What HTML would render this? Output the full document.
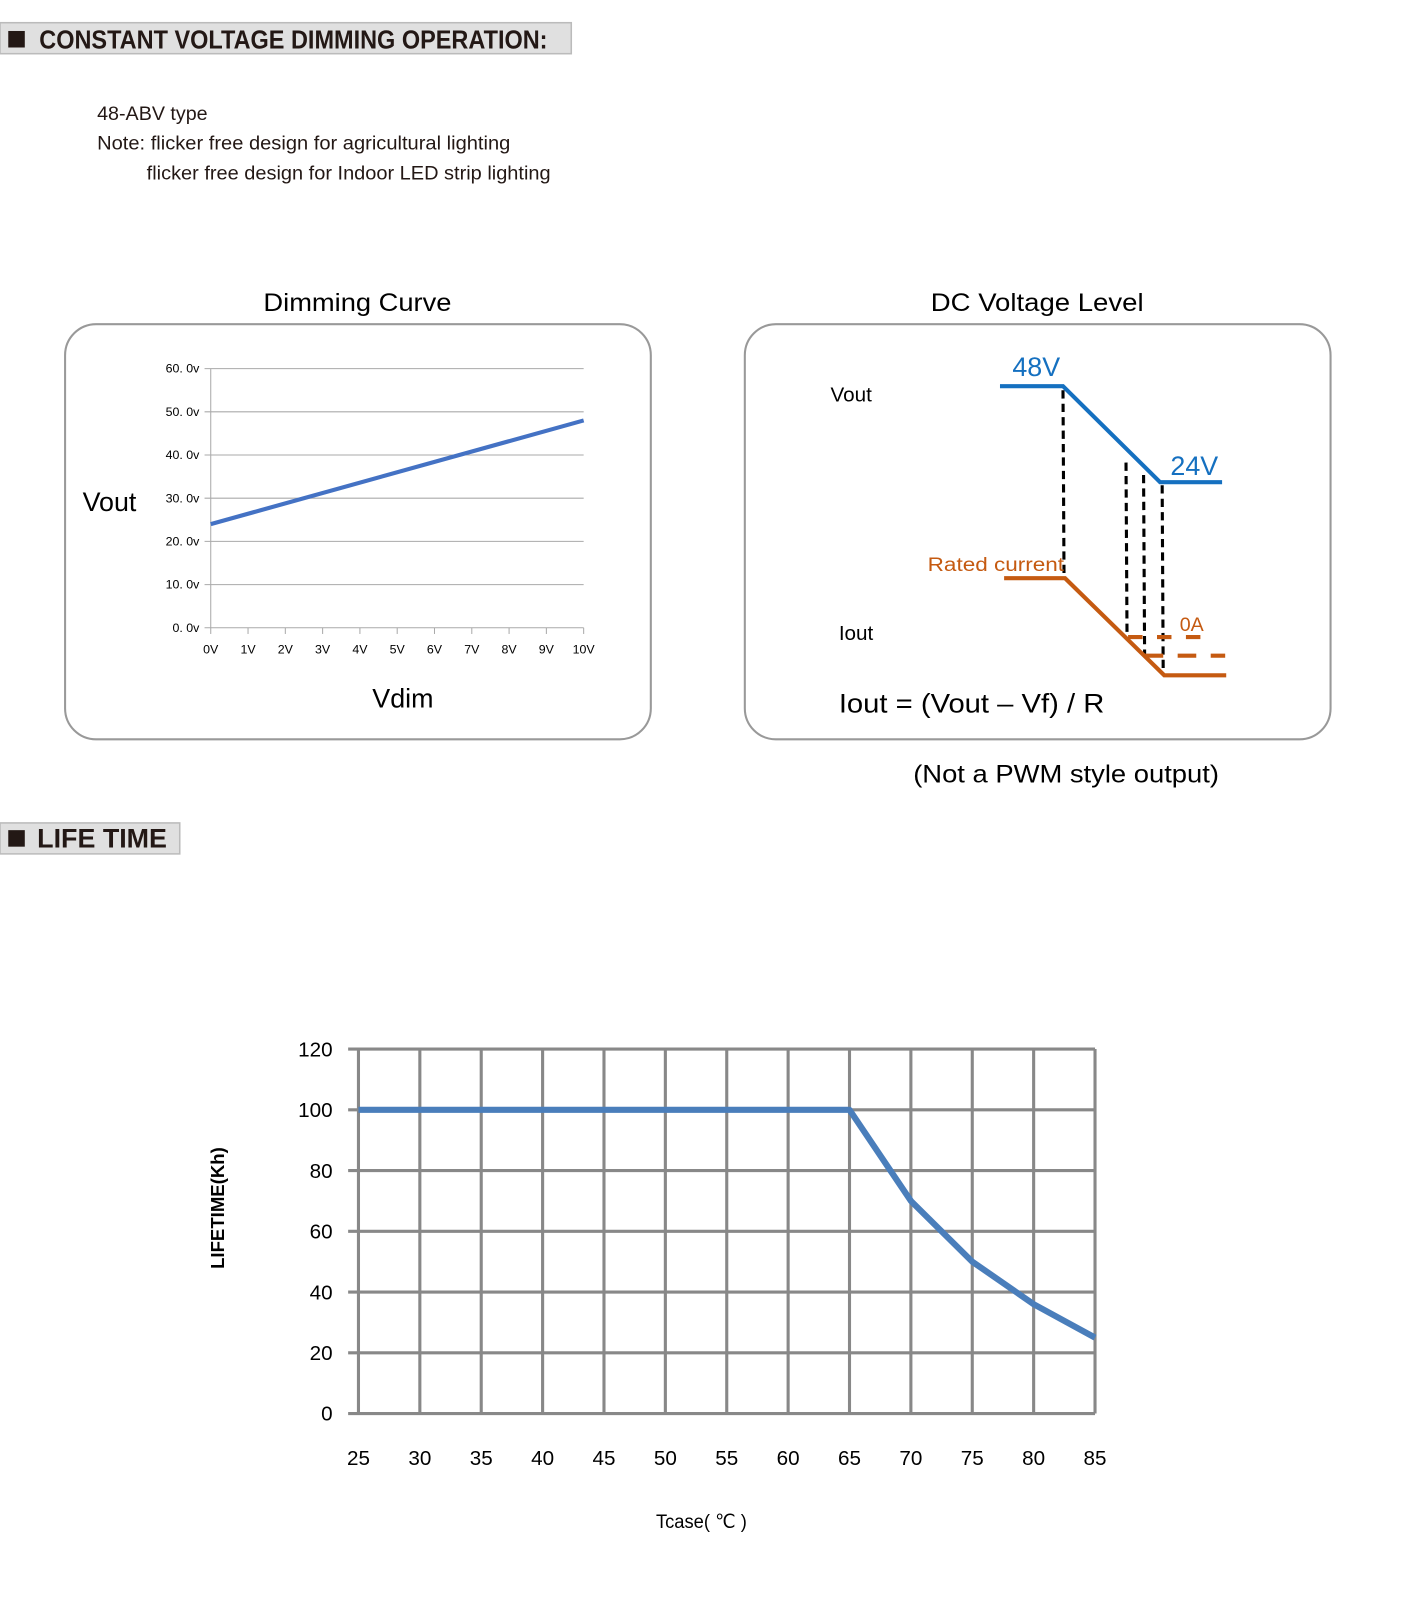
<!DOCTYPE html>
<html><head><meta charset="utf-8"><style>
html,body{margin:0;padding:0;background:#fff;}
svg{display:block;}
text{font-family:"Liberation Sans",sans-serif;}
</style></head><body>
<svg id="page" width="1407" height="1619" viewBox="0 0 1362 1568" preserveAspectRatio="none">
<g>
<rect x="0" y="22" width="553" height="30" fill="#e0e0e0" stroke="#bbb" stroke-width="1.5"/>
<rect x="8" y="30" width="16" height="16" fill="#231815"/>
<text x="38" y="47" font-size="25" font-weight="bold" fill="#231815" textLength="492" lengthAdjust="spacingAndGlyphs">CONSTANT VOLTAGE DIMMING OPERATION:</text>
</g>
<text x="94" y="116" font-size="19" fill="#231815" textLength="107" lengthAdjust="spacingAndGlyphs">48-ABV type</text>
<text x="94" y="145" font-size="19" fill="#231815" textLength="400" lengthAdjust="spacingAndGlyphs">Note: flicker free design for agricultural lighting</text>
<text x="142" y="174" font-size="19" fill="#231815" textLength="391" lengthAdjust="spacingAndGlyphs">flicker free design for Indoor LED strip lighting</text>

<text x="255" y="301" font-size="24" textLength="182" lengthAdjust="spacingAndGlyphs">Dimming Curve</text>
<rect x="63" y="314" width="567" height="402" rx="30" fill="none" stroke="#999" stroke-width="2"/>
<g id="dim"></g>
<text x="80" y="495" font-size="26">Vout</text>
<text x="390" y="685" font-size="26" text-anchor="middle">Vdim</text>

<text x="901" y="301" font-size="24" textLength="206" lengthAdjust="spacingAndGlyphs">DC Voltage Level</text>
<rect x="721" y="314" width="567" height="402" rx="30" fill="none" stroke="#999" stroke-width="2"/>
<g>
<g stroke="#000" stroke-width="3" stroke-dasharray="8,5" fill="none">
<line x1="1029" y1="378" x2="1030" y2="560"/>
<line x1="1090" y1="448" x2="1091" y2="620"/>
<line x1="1107" y1="460" x2="1108" y2="634"/>
<line x1="1125" y1="470" x2="1126" y2="652"/>
</g>
<polyline points="968,374 1029,374 1123,467 1183,467" fill="none" stroke="#1570c0" stroke-width="4"/>
<polyline points="972,560 1031,560 1127,654 1187,654" fill="none" stroke="#c55a11" stroke-width="4"/>
<line x1="1092" y1="617" x2="1176" y2="617" stroke="#c55a11" stroke-width="4" stroke-dasharray="14,14"/>
<line x1="1108" y1="635" x2="1186" y2="635" stroke="#c55a11" stroke-width="4" stroke-dasharray="18,14"/>
<text x="980" y="364" font-size="26" fill="#1570c0">48V</text>
<text x="1133" y="460" font-size="26" fill="#1570c0">24V</text>
<text x="804" y="389" font-size="20">Vout</text>
<text x="812" y="620" font-size="20" font-family="Liberation Serif,serif">Iout</text>
<text x="898" y="553" font-size="19" fill="#c55a11" textLength="132" lengthAdjust="spacingAndGlyphs">Rated current</text>
<text x="1142" y="611" font-size="19" fill="#c55a11">0A</text>
<text x="812" y="690" font-size="26" textLength="257" lengthAdjust="spacingAndGlyphs">Iout = (Vout – Vf) / R</text>
</g>
<text x="884" y="758" font-size="24" textLength="296" lengthAdjust="spacingAndGlyphs">(Not a PWM style output)</text>

<g>
<rect x="0" y="797" width="174" height="30" fill="#e0e0e0" stroke="#bbb" stroke-width="1.5"/>
<rect x="8" y="804" width="16" height="16" fill="#231815"/>
<text x="36" y="821" font-size="26" font-weight="bold" fill="#231815">LIFE TIME</text>
</g>
<g id="life"></g>
<text transform="translate(217,1170) rotate(-90)" font-size="18" font-weight="bold" text-anchor="middle">LIFETIME(Kh)</text>
<text x="679" y="1480" font-size="19" text-anchor="middle" textLength="88" lengthAdjust="spacingAndGlyphs">Tcase( ℃ )</text>
</svg>
<script>
const dimX = [0,1,2,3,4,5,6,7,8,9,10];
const dimXLabels = ["0V","1V","2V","3V","4V","5V","6V","7V","8V","9V","10V"];
const dimYTicks = [0,10,20,30,40,50,60];
const dimYLabels = ["0. 0v","10. 0v","20. 0v","30. 0v","40. 0v","50. 0v","60. 0v"];
const dimVin = [0,10];
const dimVout = [24,48];

const lifeTemps = [25,55,65,70,75,80,85];
const lifeHours = [100,100,100,70,50,36,25];
const lifeXTicks = [25,30,35,40,45,50,55,60,65,70,75,80,85];
const lifeYTicks = [0,20,40,60,80,100,120];

const NS = "http://www.w3.org/2000/svg";
function mk(parent, tag, attrs, txt){
  const e = document.createElementNS(NS, tag);
  for (const k in attrs) e.setAttribute(k, attrs[k]);
  if (txt !== undefined) e.textContent = txt;
  parent.appendChild(e);
  return e;
}
(function(){
  const g = document.getElementById('dim');
  const x = v => 204 + (v-0)/(10-0)*(565-204);
  const y = v => 608 - v/60*(608-357);
  dimYTicks.forEach((t,i)=>{
    const l = mk(g,'line',{x1:198,x2:565,y1:y(t),y2:y(t),stroke:'#aaa','stroke-width':1});
    
    
    const tx = mk(g,'text',{x:193,y:y(t)+4,'font-size':12,'text-anchor':'end','font-family':'Liberation Serif,serif'},dimYLabels[i]);
    
    
  });
  mk(g,'line',{x1:204,x2:204,y1:357,y2:608,stroke:'#aaa','stroke-width':1});
  dimX.forEach((v,i)=>{
    mk(g,'line',{x1:x(v),x2:x(v),y1:608,y2:614,stroke:'#aaa','stroke-width':1});
    const tx = mk(g,'text',{x:x(v),y:633,'font-size':12,'text-anchor':'middle','font-family':'Liberation Serif,serif'},dimXLabels[i]);
    
    
  });
  const pl = mk(g,'polyline',{points:dimVin.map((v,i)=>x(v)+','+y(dimVout[i])).join(' '),fill:'none',stroke:'#4472c4','stroke-width':4});
  
  
})();
(function(){
  const g = document.getElementById('life');
  const x = v => 347 + (v-25)/(85-25)*(1060-347);
  const y = v => 1369 - v/120*(1369-1016);
  lifeYTicks.forEach(t=>{
    const l = mk(g,'line',{x1:337,x2:1060,y1:y(t),y2:y(t),stroke:'#888','stroke-width':3});
    
    
    const tx = mk(g,'text',{x:322,y:y(t)+7,'font-size':20,'text-anchor':'end'},String(t));
    
    
  });
  lifeXTicks.forEach(t=>{
    const l = mk(g,'line',{x1:x(t),x2:x(t),y1:1016,y2:1369,stroke:'#888','stroke-width':3});
    
    
    const tx = mk(g,'text',{x:x(t),y:1419,'font-size':20,'text-anchor':'middle'},String(t));
    
    
  });
  const pl = mk(g,'polyline',{points:lifeTemps.map((v,i)=>x(v)+','+y(lifeHours[i])).join(' '),fill:'none',stroke:'#4a7ebb','stroke-width':6,'stroke-linejoin':'round'});
  
  
})();
</script>
</body></html>
